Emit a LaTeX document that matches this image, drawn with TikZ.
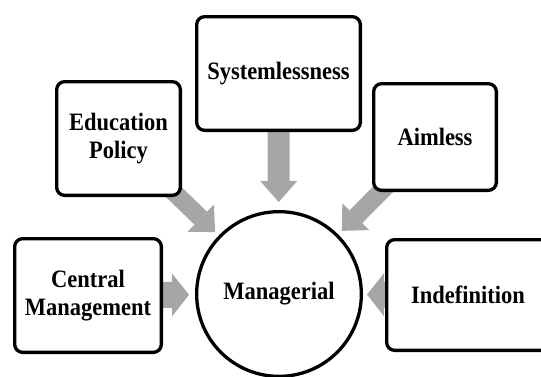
\documentclass[tikz,border=0pt]{standalone}
\usepackage{fontspec}
\setmainfont{Liberation Serif}[FakeStretch=0.9]
\usetikzlibrary{arrows.meta,backgrounds}
\definecolor{arrgray}{HTML}{A6A6A6}
\newcommand\lbl{\fontsize{25}{28}\selectfont\bfseries}
\tikzset{
  box/.style={draw=black, fill=white, line width=3.3pt, rounded corners=8pt,
    inner sep=0pt, align=center, font=\lbl},
  hub/.style={draw=black, fill=white, circle, line width=3.3pt, inner sep=0pt,
    minimum size=164.7pt, font=\lbl},
  arr/.style={draw=arrgray, shorten <=-10pt},
  varr/.style={arr, line width=22pt, -{Triangle[length=21pt,width=37pt,line width=0pt]}, shorten >=8pt},
  harr/.style={arr, line width=26pt, -{Triangle[length=17pt,width=43pt,line width=0pt]}},
  darr/.style={arr, line width=18pt, -{Triangle[length=20pt,width=38pt,line width=0pt]}, shorten >=5pt}
}
\begin{document}
\begin{tikzpicture}[x=1pt,y=-1pt]
\useasboundingbox (0,0) rectangle (541,376);
\node[box, minimum width=123.7pt, minimum height=113.7pt] (edu) at (118.5,138.5) {Education\\Policy};
\node[box, minimum width=163.7pt, minimum height=113.7pt] (sys) at (278.5,73.5) {Systemlessness};
\node[box, minimum width=122.7pt, minimum height=106.7pt] (aim) at (435,137) {Aimless};
\node[box, minimum width=146.7pt, minimum height=113.7pt] (cen) at (88,295.5) {Central\\Management};
\node[box, minimum width=162.7pt, minimum height=110.7pt] (ind) at (468,295) {Indefinition};
\node[hub] (mgr) at (279,294) {Managerial};
\begin{pgfonlayer}{background}
  \draw[varr] (sys) -- (mgr);
  \draw[darr] (edu) -- (mgr);
  \draw[darr] (aim) -- (mgr);
  \draw[harr, shorten >=6pt] (cen) -- (mgr);
  \draw[harr, shorten >=4pt] (ind) -- (mgr);
\end{pgfonlayer}
\end{tikzpicture}
\end{document}
